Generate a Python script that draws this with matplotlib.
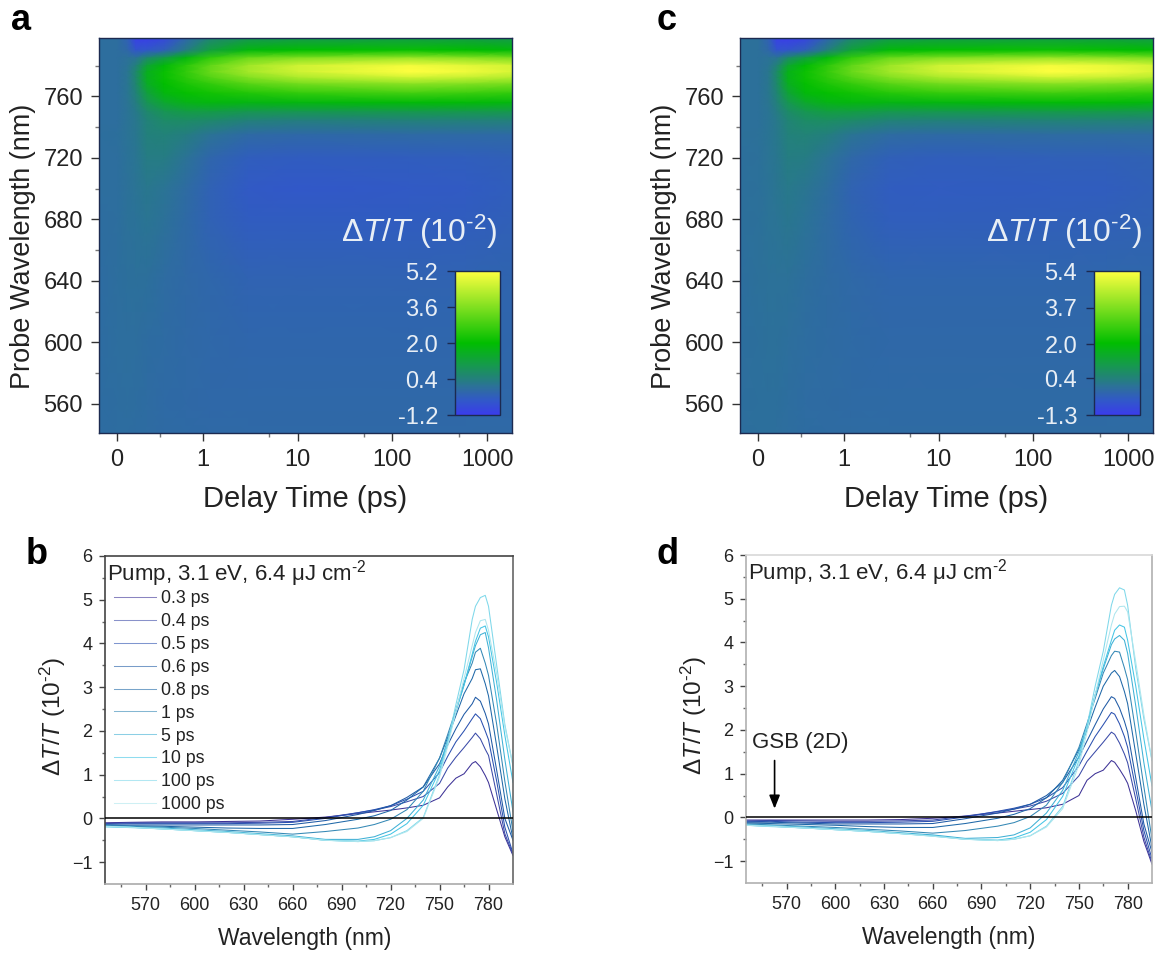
# plot.py
import numpy as np
import matplotlib
matplotlib.use("Agg")
import matplotlib.pyplot as plt
from matplotlib.colors import LinearSegmentedColormap, Normalize
from matplotlib.ticker import FixedLocator, NullFormatter

plt.rcParams['font.family'] = ['Liberation Sans', 'DejaVu Sans']
plt.rcParams['mathtext.fontset'] = 'custom'
plt.rcParams['mathtext.rm'] = 'Liberation Sans'
plt.rcParams['mathtext.it'] = 'Liberation Sans:italic'

W, H = 1157, 955

# heat maps: delay (ps) along the columns, probe wavelength (nm) along the rows
map_delay = [-0.21, 0, 0.12, 0.22, 0.35, 0.55, 0.8, 1.2, 3, 10, 150, 600, 1830]
map_probe = [798, 790, 785, 780, 776, 772, 768, 762, 756, 750, 744, 735, 720, 700, 680, 640, 600, 560, 541]
map_a = [
    [0.00, 0.00, -0.30, -1.10, -1.15, -0.90, -0.20, 0.50, 0.90, 1.00, 1.10, 1.10, 1.00],
    [0.00, 0.00, -0.15, -0.60, -0.55, -0.35, 0.30, 1.20, 1.85, 2.00, 2.10, 2.00, 1.90],
    [0.00, 0.00, 0.05, 0.10, 0.60, 1.10, 1.80, 2.60, 3.30, 3.60, 3.90, 3.70, 3.50],
    [0.00, 0.00, 0.10, 0.40, 1.30, 1.90, 2.50, 3.20, 4.00, 4.60, 5.05, 4.85, 4.65],
    [0.00, 0.00, 0.15, 0.60, 1.60, 2.10, 2.60, 3.30, 4.05, 4.60, 5.20, 5.00, 4.70],
    [0.00, 0.00, 0.15, 0.60, 1.60, 2.10, 2.50, 3.00, 3.60, 4.10, 4.55, 4.40, 4.20],
    [0.00, 0.00, 0.15, 0.55, 1.50, 2.00, 2.30, 2.60, 3.05, 3.40, 3.70, 3.60, 3.45],
    [0.00, 0.00, 0.15, 0.45, 1.20, 1.80, 2.05, 2.20, 2.40, 2.60, 2.80, 2.70, 2.60],
    [0.00, 0.00, 0.12, 0.35, 0.90, 1.40, 1.70, 1.80, 1.75, 1.80, 1.90, 1.90, 1.80],
    [0.00, 0.00, 0.10, 0.25, 0.60, 0.90, 1.10, 1.10, 0.95, 0.95, 1.00, 1.00, 1.00],
    [0.00, 0.00, 0.10, 0.20, 0.45, 0.65, 0.70, 0.60, 0.40, 0.35, 0.40, 0.40, 0.40],
    [0.00, 0.02, 0.10, 0.18, 0.40, 0.45, 0.35, 0.10, -0.10, -0.15, -0.10, -0.10, -0.10],
    [-0.02, 0.00, 0.08, 0.15, 0.30, 0.30, 0.10, -0.20, -0.40, -0.45, -0.42, -0.40, -0.35],
    [-0.02, 0.00, 0.06, 0.12, 0.20, 0.12, -0.05, -0.30, -0.50, -0.55, -0.50, -0.48, -0.40],
    [-0.03, 0.00, 0.05, 0.08, 0.15, 0.05, -0.10, -0.30, -0.45, -0.45, -0.45, -0.42, -0.35],
    [-0.05, 0.00, 0.02, 0.03, 0.02, -0.05, -0.12, -0.18, -0.27, -0.27, -0.27, -0.25, -0.22],
    [-0.05, -0.02, 0.00, 0.00, -0.04, -0.08, -0.12, -0.16, -0.20, -0.20, -0.20, -0.20, -0.18],
    [-0.05, -0.03, -0.02, -0.03, -0.06, -0.10, -0.12, -0.14, -0.15, -0.15, -0.15, -0.15, -0.14],
    [-0.05, -0.03, -0.03, -0.04, -0.06, -0.09, -0.11, -0.12, -0.13, -0.13, -0.13, -0.13, -0.12],
]
map_c = [
    [0.00, 0.00, -0.35, -1.20, -1.28, -1.10, -0.30, 0.50, 1.00, 1.10, 1.15, 1.15, 1.05],
    [0.00, 0.00, -0.20, -0.70, -0.65, -0.40, 0.35, 1.30, 1.95, 2.10, 2.20, 2.10, 2.00],
    [0.00, 0.00, 0.05, 0.10, 0.65, 1.20, 1.90, 2.70, 3.40, 3.70, 4.00, 3.85, 3.65],
    [0.00, 0.00, 0.10, 0.45, 1.40, 2.00, 2.60, 3.30, 4.10, 4.75, 5.25, 5.10, 4.85],
    [0.00, 0.00, 0.15, 0.65, 1.70, 2.20, 2.70, 3.40, 4.15, 4.75, 5.40, 5.20, 4.90],
    [0.00, 0.00, 0.15, 0.65, 1.70, 2.20, 2.60, 3.10, 3.70, 4.20, 4.70, 4.60, 4.40],
    [0.00, 0.00, 0.15, 0.60, 1.60, 2.10, 2.40, 2.70, 3.15, 3.50, 3.80, 3.70, 3.55],
    [0.00, 0.00, 0.15, 0.50, 1.30, 1.90, 2.10, 2.25, 2.50, 2.70, 2.85, 2.75, 2.65],
    [0.00, 0.00, 0.12, 0.40, 0.95, 1.45, 1.75, 1.85, 1.80, 1.85, 1.95, 1.95, 1.85],
    [0.00, 0.00, 0.10, 0.28, 0.65, 0.95, 1.15, 1.15, 1.00, 1.00, 1.05, 1.05, 1.00],
    [0.00, 0.00, 0.10, 0.20, 0.47, 0.67, 0.72, 0.62, 0.42, 0.38, 0.42, 0.42, 0.40],
    [0.00, 0.02, 0.10, 0.18, 0.40, 0.45, 0.35, 0.10, -0.10, -0.15, -0.10, -0.10, -0.10],
    [-0.02, 0.00, 0.08, 0.15, 0.30, 0.28, 0.08, -0.20, -0.40, -0.45, -0.42, -0.40, -0.35],
    [-0.02, 0.00, 0.06, 0.12, 0.20, 0.12, -0.05, -0.32, -0.50, -0.52, -0.50, -0.48, -0.40],
    [-0.03, 0.00, 0.05, 0.08, 0.15, 0.05, -0.10, -0.30, -0.45, -0.45, -0.43, -0.40, -0.35],
    [-0.05, 0.00, 0.02, 0.03, 0.02, -0.05, -0.12, -0.18, -0.26, -0.26, -0.26, -0.24, -0.22],
    [-0.05, -0.02, 0.00, 0.00, -0.04, -0.08, -0.12, -0.16, -0.19, -0.19, -0.19, -0.19, -0.18],
    [-0.05, -0.03, -0.02, -0.03, -0.06, -0.10, -0.12, -0.14, -0.15, -0.15, -0.15, -0.15, -0.14],
    [-0.05, -0.03, -0.03, -0.04, -0.06, -0.09, -0.11, -0.12, -0.13, -0.13, -0.13, -0.13, -0.12],
]

# spectra at each delay, panels b and d
spec_nm = [545, 560, 580, 600, 620, 640, 660, 680, 700, 710, 720, 730, 740, 750, 755, 760, 765, 770, 772, 775, 778, 780, 785, 790, 795]
spec_delays = ['0.3 ps', '0.4 ps', '0.5 ps', '0.6 ps', '0.8 ps', '1 ps', '5 ps', '10 ps', '100 ps', '1000 ps']
spec_colors = ['#3d3296', '#3a4aa8', '#2a50b0', '#1f5aa5', '#1f68a8', '#3488b5', '#3fb0d5', '#45c5e5', '#7fd8ea', '#aee6ee']
spec_b = [
    [-.10, -.09, -.08, -.08, -.07, -.06, -.02, .03, .11, .15, .19, .24, .30, .47, .72, .92, 1.02, 1.26, 1.30, 1.18, .98, .82, .20, -.42, -.85],
    [-.12, -.10, -.10, -.10, -.10, -.09, -.07, .02, .13, .19, .27, .38, .50, .80, 1.15, 1.40, 1.62, 1.85, 1.95, 1.82, 1.58, 1.44, .55, -.35, -.82],
    [-.13, -.12, -.12, -.12, -.12, -.11, -.09, .00, .13, .20, .29, .44, .62, 1.05, 1.42, 1.75, 2.00, 2.28, 2.39, 2.28, 2.00, 1.80, .85, -.20, -.80],
    [-.15, -.15, -.15, -.15, -.15, -.15, -.14, -.05, .09, .18, .29, .48, .72, 1.25, 1.68, 2.05, 2.38, 2.62, 2.77, 2.68, 2.40, 2.16, 1.10, .00, -.50],
    [-.15, -.17, -.18, -.20, -.22, -.23, -.23, -.14, -.02, .06, .18, .42, .72, 1.38, 1.85, 2.35, 2.85, 3.20, 3.40, 3.42, 3.08, 2.80, 1.65, .45, -.47],
    [-.16, -.18, -.20, -.23, -.27, -.31, -.36, -.30, -.22, -.14, -.02, .20, .62, 1.38, 1.92, 2.48, 3.10, 3.55, 3.80, 3.89, 3.55, 3.27, 2.15, .85, -.30],
    [-.18, -.20, -.22, -.26, -.30, -.35, -.40, -.48, -.48, -.42, -.28, .00, .42, 1.20, 1.80, 2.45, 3.05, 3.70, 3.95, 4.20, 4.25, 3.90, 2.70, 1.35, .15],
    [-.19, -.20, -.24, -.28, -.32, -.37, -.42, -.50, -.52, -.48, -.36, -.12, .30, 1.10, 1.75, 2.45, 3.05, 3.75, 4.05, 4.35, 4.40, 4.15, 3.10, 1.90, .82],
    [-.19, -.21, -.24, -.28, -.32, -.37, -.42, -.50, -.53, -.51, -.44, -.28, .02, 1.00, 1.75, 2.60, 3.40, 4.55, 4.85, 5.05, 5.10, 4.85, 3.50, 2.15, 1.20],
    [-.18, -.20, -.24, -.28, -.32, -.37, -.42, -.50, -.53, -.51, -.44, -.30, .00, .95, 1.65, 2.45, 3.20, 3.95, 4.25, 4.52, 4.55, 4.30, 3.30, 2.10, 1.20],
]
spec_d = [
    [-.06, -.06, -.06, -.06, -.06, -.05, -.02, .03, .10, .14, .18, .22, .30, .50, .85, 1.00, 1.08, 1.30, 1.26, 1.10, .92, .78, .15, -.55, -1.07],
    [-.08, -.07, -.08, -.09, -.09, -.08, -.06, .03, .13, .19, .26, .37, .55, .95, 1.28, 1.50, 1.72, 1.95, 1.90, 1.70, 1.45, 1.25, .42, -.45, -1.03],
    [-.10, -.09, -.11, -.12, -.12, -.11, -.09, .01, .14, .21, .30, .45, .68, 1.18, 1.52, 1.85, 2.12, 2.40, 2.36, 2.14, 1.85, 1.60, .65, -.30, -.95],
    [-.11, -.11, -.13, -.15, -.15, -.15, -.14, -.03, .10, .19, .30, .50, .80, 1.38, 1.75, 2.12, 2.48, 2.76, 2.72, 2.50, 2.20, 1.95, .90, -.15, -.80],
    [-.13, -.14, -.16, -.18, -.21, -.23, -.23, -.14, -.02, .07, .20, .45, .85, 1.55, 2.00, 2.52, 3.00, 3.30, 3.36, 3.22, 2.88, 2.60, 1.45, .30, -.70],
    [-.15, -.17, -.20, -.23, -.27, -.31, -.36, -.30, -.20, -.12, .02, .28, .80, 1.60, 2.15, 2.72, 3.30, 3.70, 3.80, 3.78, 3.42, 3.15, 1.95, .70, -.50],
    [-.17, -.19, -.22, -.26, -.30, -.35, -.40, -.48, -.46, -.40, -.24, .10, .62, 1.50, 2.10, 2.80, 3.40, 3.95, 4.08, 4.16, 4.05, 3.75, 2.55, 1.25, .15],
    [-.18, -.20, -.24, -.28, -.32, -.37, -.42, -.50, -.52, -.47, -.34, -.05, .48, 1.40, 2.05, 2.80, 3.45, 4.05, 4.28, 4.40, 4.35, 4.05, 3.00, 1.80, .72],
    [-.18, -.21, -.24, -.28, -.32, -.37, -.43, -.50, -.53, -.50, -.42, -.20, .25, 1.30, 2.10, 3.00, 3.80, 4.85, 5.10, 5.25, 5.20, 4.85, 3.40, 2.25, 1.30],
    [-.18, -.20, -.24, -.28, -.32, -.37, -.43, -.50, -.53, -.50, -.42, -.22, .20, 1.20, 1.95, 2.80, 3.60, 4.40, 4.65, 4.82, 4.83, 4.70, 3.55, 2.35, 1.30],
]

cmap_stops = [-1.2, -0.55, -0.15, 0.1, 0.4, 1.0, 2.0, 3.6, 5.2]
cmap_colors = ['#3a3ceb', '#3158c8', '#2f68a8', '#2b7396', '#23807c', '#16994e', '#00be00', '#80e020', '#ffff40']


def px_axes(fig, left, top, right, bottom):
    """ Add axes placed by pixel edges of the picture. """
    return fig.add_axes([left / W, 1 - bottom / H, (right - left) / W, (bottom - top) / H])


def draw_map(fig, box, table, vmin, vmax, ticks, cbar_box, title_xy):
    ax = px_axes(fig, *box)
    stops = (np.array(cmap_stops) - cmap_stops[0]) / (cmap_stops[-1] - cmap_stops[0])
    cmap = LinearSegmentedColormap.from_list('dtt', list(zip(stops, cmap_colors)), N=512)
    X, Y = np.meshgrid(map_delay, map_probe)
    mesh = ax.pcolormesh(X, Y, np.array(table), shading='gouraud', cmap=cmap, norm=Normalize(vmin, vmax))
    ax.set_xscale('symlog', linthresh=1, linscale=0.815)
    ax.set_xlim(-0.21, 1830)
    ax.set_ylim(541, 798)
    ax.xaxis.set_major_locator(FixedLocator([0, 1, 10, 100, 1000]))
    ax.xaxis.set_minor_locator(FixedLocator([0.5, 5, 50, 500]))
    ax.xaxis.set_minor_formatter(NullFormatter())
    ax.set_xticklabels(['0', '1', '10', '100', '1000'])
    ax.yaxis.set_major_locator(FixedLocator([560, 600, 640, 680, 720, 760]))
    ax.yaxis.set_minor_locator(FixedLocator([580, 620, 660, 700, 740, 780]))
    ax.tick_params(which='major', labelsize=17, length=6, width=1, color='#333333', labelcolor='#222222', pad=5.5)
    ax.tick_params(which='minor', length=3, width=1, color='#777777')
    for s in ax.spines.values():
        s.set_color('#1c2a50')
        s.set_linewidth(1)
    ax.set_xlabel('Delay Time (ps)', fontsize=21, color='#222222', labelpad=10)
    ax.set_ylabel('Probe Wavelength (nm)', fontsize=19.5, color='#222222', labelpad=5, y=0.473)

    cax = px_axes(fig, *cbar_box)
    cb = fig.colorbar(mesh, cax=cax)
    cb.set_ticks(ticks)
    cb.set_ticklabels(['%.1f' % t for t in ticks])
    cax.yaxis.set_ticks_position('left')
    cax.tick_params(labelsize=17, length=6, width=1, color='#1c2a50', labelcolor='#e8eef5', pad=6)
    cb.outline.set_edgecolor('#1c2a50')
    cb.outline.set_linewidth(1)
    ax.text(title_xy[0] / W, 1 - title_xy[1] / H, r'$\Delta\mathit{T/T}$ (10$^{\text{-}2}$)', transform=fig.transFigure,
            fontsize=23, color='#e8eef5', ha='right', va='center')
    return ax


def draw_spectra(fig, box, table, spine_colors, legend=False, xlabel_x=0.5):
    ax = px_axes(fig, *box)
    for row, c, lab in zip(table, spec_colors, spec_delays):
        ax.plot(spec_nm, row, color=c, lw=0.75, label=lab)
    ax.axhline(0, color='black', lw=1.1, zorder=5)
    ax.set_xlim(545, 795)
    ax.set_ylim(-1.5, 6)
    ax.xaxis.set_major_locator(FixedLocator([570, 600, 630, 660, 690, 720, 750, 780]))
    ax.xaxis.set_minor_locator(FixedLocator([555, 585, 615, 645, 675, 705, 735, 765]))
    ax.yaxis.set_major_locator(FixedLocator([-1, 0, 1, 2, 3, 4, 5, 6]))
    ax.yaxis.set_minor_locator(FixedLocator([-0.5, 0.5, 1.5, 2.5, 3.5, 4.5, 5.5]))
    ax.tick_params(which='major', labelsize=13, length=4, width=1, color='#444444', labelcolor='#222222', pad=5)
    ax.tick_params(which='minor', length=2.5, width=1, color='#666666')
    for side, c in spine_colors.items():
        ax.spines[side].set_color(c)
        ax.spines[side].set_linewidth(1.2)
    ax.set_xlabel('Wavelength (nm)', fontsize=16.5, color='#222222', labelpad=10, x=xlabel_x)
    ax.set_ylabel(r'$\Delta\mathit{T/T}$ (10$^{\text{-}2}$)', fontsize=17.5, color='#222222', labelpad=3, y=0.51)
    ax.text(0.006, 0.947, 'Pump, 3.1 eV, 6.4 \u03bcJ cm$^{\\text{-}2}$', transform=ax.transAxes, fontsize=16, color='#222222', va='center')
    if legend:
        leg = ax.legend(loc='upper left', bbox_to_anchor=(0.0135, 0.906), frameon=False, fontsize=12.8, labelspacing=0.33,
                        handlelength=2.36, handletextpad=0.28, borderpad=0.2, borderaxespad=0, labelcolor='#222222')
        for line in leg.get_lines():
            line.set_alpha(0.6)
    return ax


fig = plt.figure(figsize=(W / 100, H / 100), dpi=100)

draw_map(fig, (99, 38, 512, 433), map_a, -1.2, 5.2, [-1.2, 0.4, 2.0, 3.6, 5.2], (455, 271, 500, 415), (497, 232))
draw_map(fig, (740, 38, 1153, 433), map_c, -1.3, 5.4, [-1.3, 0.4, 2.0, 3.7, 5.4], (1094, 271, 1140, 415), (1142, 232))
draw_spectra(fig, (105, 556, 513, 884), spec_b, {'left': '#444444', 'top': '#444444', 'right': '#666666', 'bottom': '#aaaaaa'}, legend=True, xlabel_x=0.49)
ax_d = draw_spectra(fig, (746, 555, 1152, 883), spec_d, {'left': '#b0b0b0', 'top': '#d8d8d8', 'right': '#b0b0b0', 'bottom': '#b0b0b0'})

ax_d.annotate('', xy=(562.6, 0.2), xytext=(562.6, 1.3),
              arrowprops=dict(arrowstyle='-|>,head_width=0.32,head_length=0.8', color='black', lw=1.2, shrinkA=0, shrinkB=0))
ax_d.text(549, 1.72, 'GSB (2D)', fontsize=16, color='#222222', va='center')

for lab, x, y in [('a', 11, 21), ('b', 26, 555), ('c', 657, 21), ('d', 657, 555)]:
    fig.text(x / W, 1 - y / H, lab, fontsize=26, fontweight='bold', color='black', va='center')

fig.savefig('out.png', dpi=100)
